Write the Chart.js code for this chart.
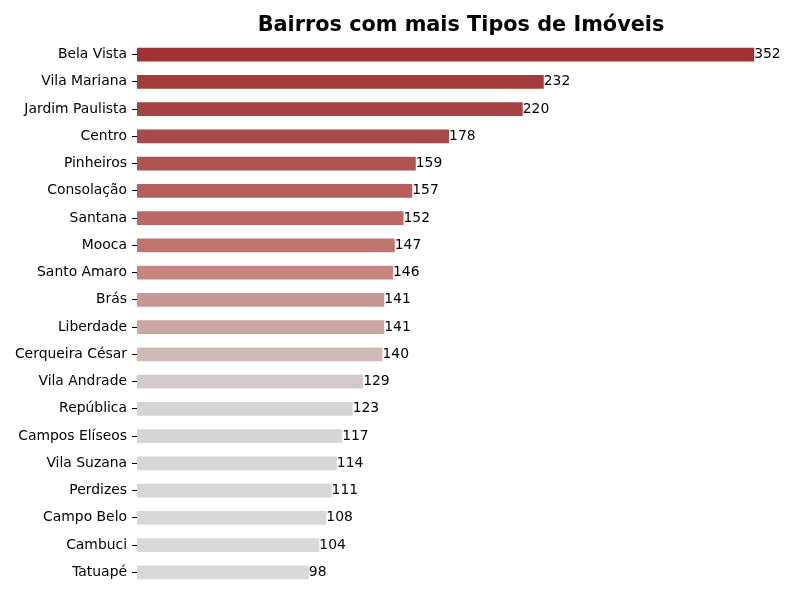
<!DOCTYPE html>
<html lang="pt">
<head>
<meta charset="UTF-8">
<title>Bairros com mais Tipos de Imóveis</title>
<script src="https://cdn.jsdelivr.net/npm/chart.js"></script>
<style>
  body { margin: 0; background: #fff; }
</style>
</head>
<body>
<canvas id="grafico" width="800" height="600"></canvas>
<script>
// dados
var bairros = ['Bela Vista', 'Vila Mariana', 'Jardim Paulista', 'Centro', 'Pinheiros', 'Consolação',
  'Santana', 'Mooca', 'Santo Amaro', 'Brás', 'Liberdade', 'Cerqueira César', 'Vila Andrade',
  'República', 'Campos Elíseos', 'Vila Suzana', 'Perdizes', 'Campo Belo', 'Cambuci', 'Tatuapé'];
var tipos = [352, 232, 220, 178, 159, 157, 152, 147, 146, 141, 141, 140, 129, 123, 117, 114, 111, 108, 104, 98];
var cores = ['#a03134', '#a33a3b', '#a64244', '#a94a4a', '#b05350', '#b55d5a', '#bb6864', '#c1756f',
  '#c6857f', '#c89795', '#caa6a4', '#cfbab8', '#d2cac9', '#d5d3d3', '#d6d6d6', '#d6d6d6', '#d7d7d7',
  '#d8d8d8', '#d9d9d9', '#d9d9d9'];
var titulo = 'Bairros com mais Tipos de Imóveis';

var fonte = 'DejaVu Sans';

var rotulos = {
  id: 'rotulos',
  afterDatasetsDraw: function(chart) {
    var ctx = chart.ctx;
    var meta = chart.getDatasetMeta(0);
    ctx.save();
    ctx.font = '13.9px "' + fonte + '"';
    ctx.fillStyle = '#000';
    ctx.textAlign = 'left';
    ctx.textBaseline = 'middle';
    meta.data.forEach(function(bar, i) {
      ctx.fillText(String(tipos[i]), bar.x, bar.y);
    });
    // titulo centrado sobre a area do grafico
    var area = chart.chartArea;
    ctx.font = 'bold 20.8px "' + fonte + '"';
    ctx.textAlign = 'center';
    ctx.fillText(titulo, (area.left + area.right) / 2, 26);
    ctx.restore();
  }
};

new Chart(document.getElementById('grafico'), {
  type: 'bar',
  data: {
    labels: bairros,
    datasets: [{
      data: tipos,
      backgroundColor: cores,
      borderWidth: 0,
      barPercentage: 0.5,
      categoryPercentage: 1.0
    }]
  },
  options: {
    indexAxis: 'y',
    responsive: false,
    animation: false,
    layout: { padding: { left: 0, top: 41, right: 15, bottom: 14 } },
    plugins: {
      legend: { display: false },
      tooltip: { enabled: false }
    },
    scales: {
      x: { display: false, min: 0, max: 369.6 },
      y: {
        afterFit: function(scale) { scale.width = 137; },
        border: { display: false },
        grid: { offset: false, drawOnChartArea: false, drawTicks: true, tickLength: 5, tickColor: '#000', lineWidth: 1 },
        ticks: { color: '#000', padding: 5, font: { family: fonte, size: 13.9 } }
      }
    }
  },
  plugins: [rotulos]
});
</script>
</body>
</html>
